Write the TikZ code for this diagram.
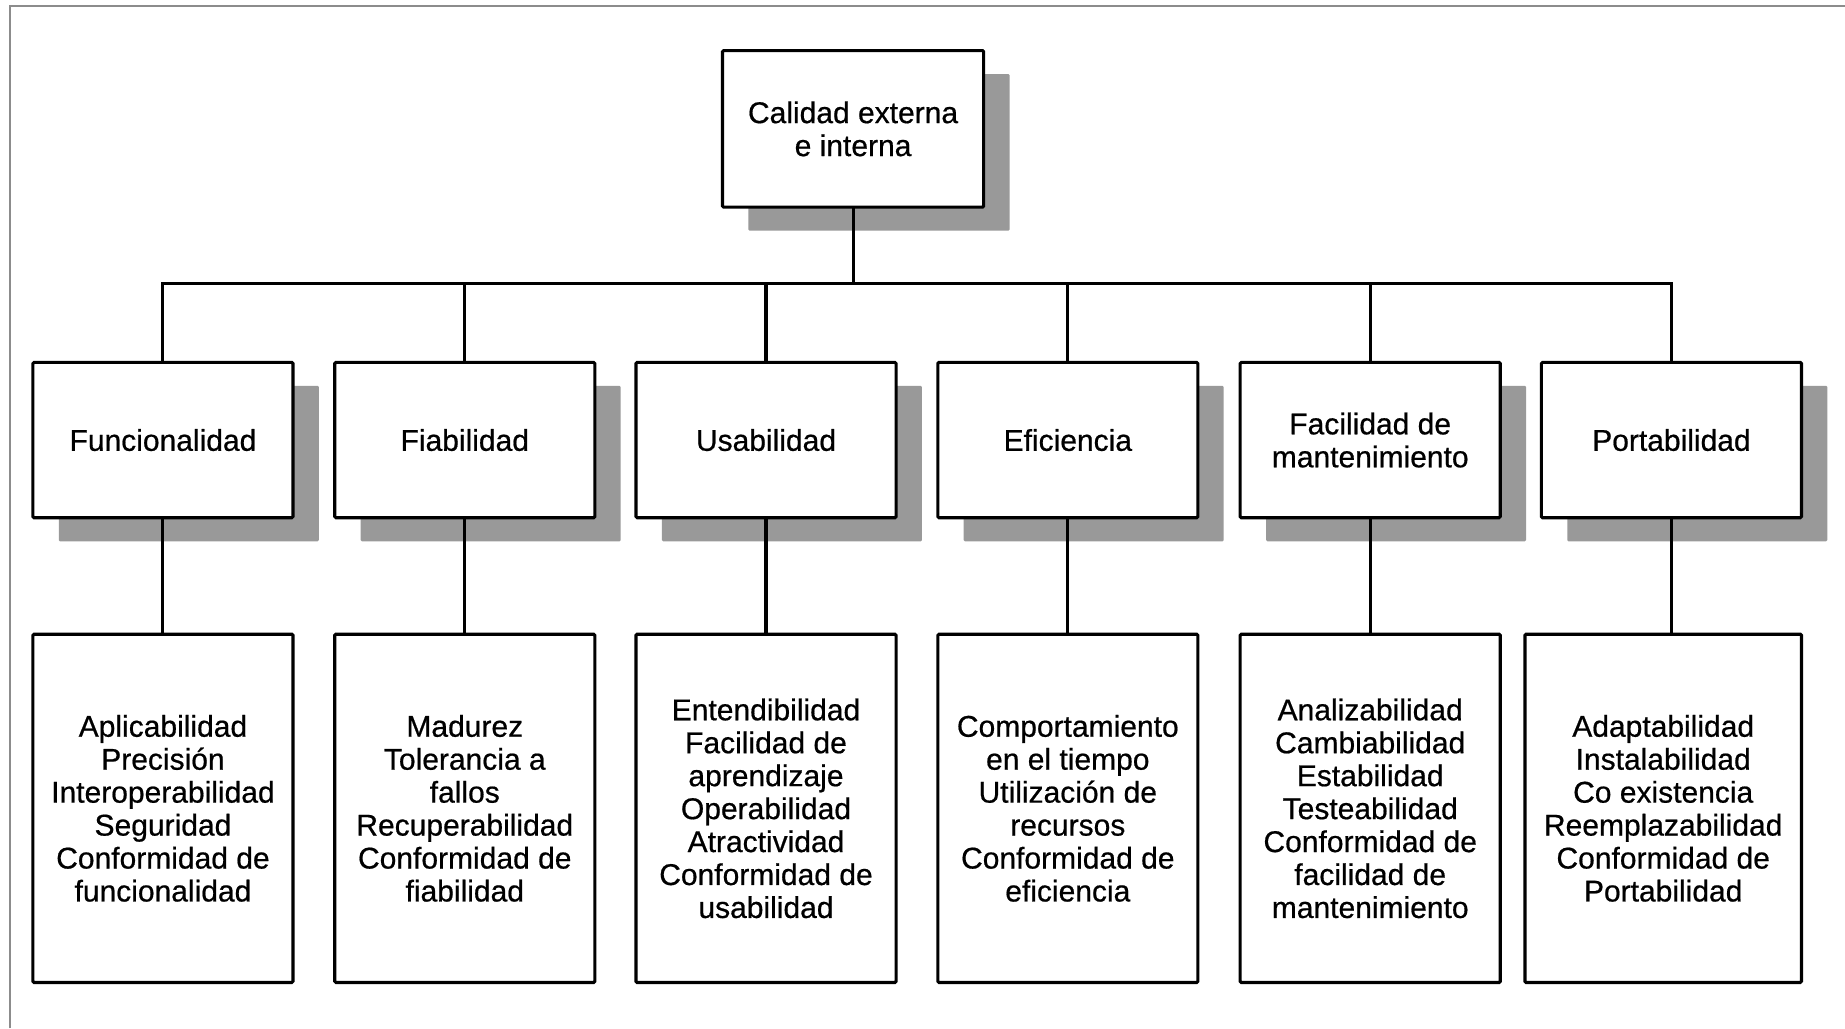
\documentclass[tikz,border=0pt]{standalone}
\usepackage{fontspec}
\setmainfont{Liberation Sans}
\newfontfamily\boxfont[FakeBold=0.6]{Liberation Sans}
\usetikzlibrary{shadows}
\begin{document}
\begin{tikzpicture}[x=1pt,y=-1pt,
  box/.style={draw=black, line width=2.6pt, fill=white, rectangle,
    inner sep=0pt, outer sep=0pt, align=center, rounded corners=1pt,
    font=\boxfont\fontsize{25.5}{28}\selectfont},
  shadowed/.style={general shadow={fill=black!40, shadow xshift=22pt, shadow yshift=-20pt}},
  head/.style={box, shadowed, minimum width=221pt, minimum height=132pt},
  leaf/.style={box, minimum width=221pt, minimum height=296pt},
  link/.style={line width=2.6pt}]

\useasboundingbox (0,0) rectangle (1568,874);
\fill[white] (0,0) rectangle (1568,874);

% page frame
\draw[black!45, line width=1.3pt] (8.5,874) -- (8.5,5) -- (1568,5);

% root
\node[head, minimum width=222pt, minimum height=133pt] (top) at (725,109.5)
  {Calidad externa\\e interna};

% characteristics
\node[head] (f1) at (138.5,374) {Funcionalidad};
\node[head] (f2) at (395,374) {Fiabilidad};
\node[head] (f3) at (651,374) {Usabilidad};
\node[head] (f4) at (907.5,374) {Eficiencia};
\node[head] (f5) at (1164.5,374) {Facilidad de\\mantenimiento};
\node[head] (f6) at (1420.5,374) {Portabilidad};

% sub-characteristics
\node[leaf] (s1) at (138.5,687) {Aplicabilidad\\Precisión\\Interoperabilidad\\Seguridad\\Conformidad de\\funcionalidad};
\node[leaf] (s2) at (395,687) {Madurez\\Tolerancia a\\fallos\\Recuperabilidad\\Conformidad de\\fiabilidad};
\node[leaf] (s3) at (651,687) {Entendibilidad\\Facilidad de\\aprendizaje\\Operabilidad\\Atractividad\\Conformidad de\\usabilidad};
\node[leaf] (s4) at (907.5,687) {Comportamiento\\en el tiempo\\Utilización de\\recursos\\Conformidad de\\eficiencia};
\node[leaf] (s5) at (1164.5,687) {Analizabilidad\\Cambiabilidad\\Estabilidad\\Testeabilidad\\Conformidad de\\facilidad de\\mantenimiento};
\node[leaf, minimum width=235pt] (s6) at (1413.5,687) {Adaptabilidad\\Instalabilidad\\Co existencia\\Reemplazabilidad\\Conformidad de\\Portabilidad};

% tree connectors
\coordinate (bus) at (725,241);
\draw[link] (top.south) -- (bus);
\draw[link] (f1.north) |- (bus) -| (f6.north);
\foreach \i in {2,3,4,5} {
  \draw[link] (f\i.north) -- (f\i.north |- bus);
}
\foreach \i in {1,...,6} {
  \draw[link] (f\i.south) -- (f\i.south |- s\i.north);
}
\end{tikzpicture}
\end{document}
